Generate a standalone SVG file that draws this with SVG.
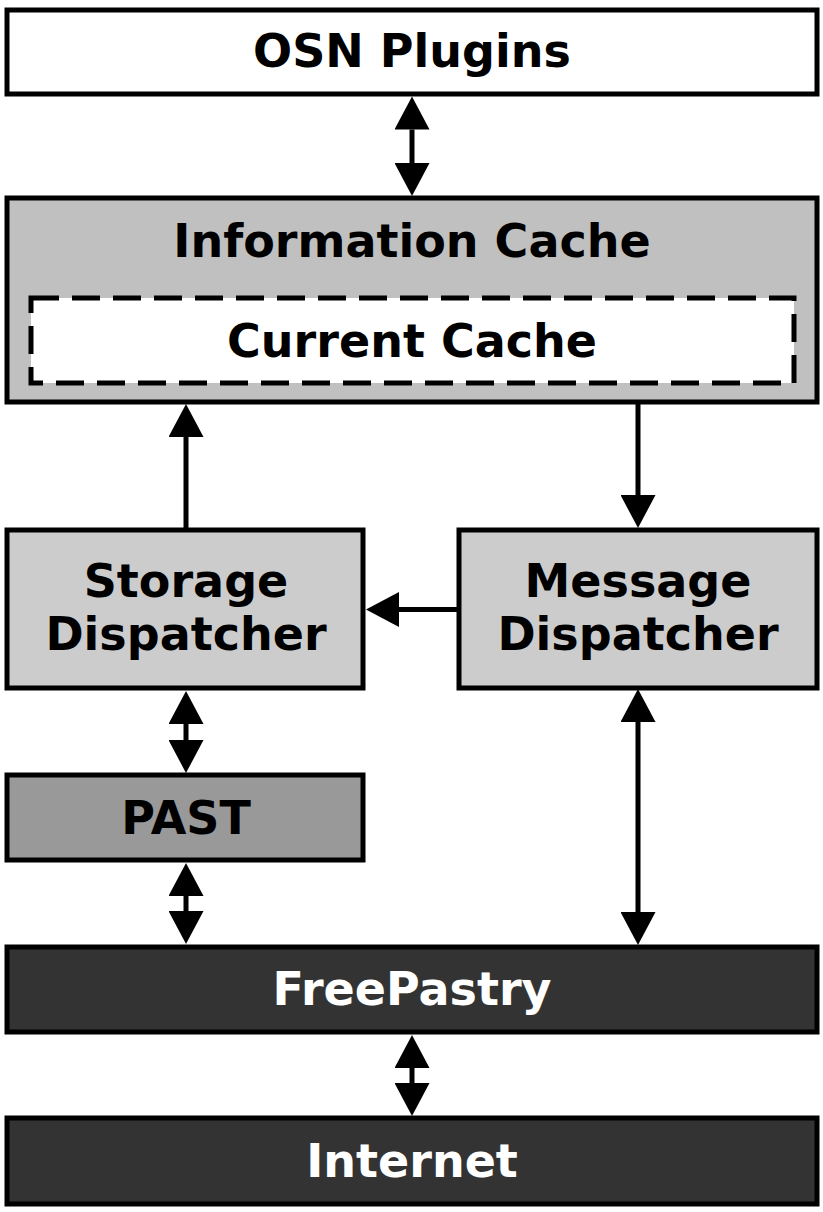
<svg xmlns="http://www.w3.org/2000/svg" width="823" height="1212" viewBox="0 0 823 1212">
<style>
.box{stroke:#000;stroke-width:5}
.lbl{font-family:"DejaVu Sans","Liberation Sans",sans-serif;font-weight:bold;font-size:46px;text-anchor:middle;fill:#000}
.wht{fill:#fff}
.conn{stroke:#000;stroke-width:5;fill:none}
</style>
<defs>
<marker id="ah" markerUnits="userSpaceOnUse" markerWidth="34" markerHeight="35" refX="0" refY="17.5" orient="auto-start-reverse" viewBox="0 0 34 35">
<path d="M0,0 L33,17.5 L0,35 Z" fill="#000"/>
</marker>
</defs>
<rect width="823" height="1212" fill="#fff"/>
<g id="osn-plugins">
<rect class="box" x="7" y="10" width="810" height="84" fill="#fff"/>
<text class="lbl" x="412" y="67">OSN Plugins</text>
</g>
<g id="information-cache">
<rect class="box" x="7" y="198" width="810" height="204" fill="#c0c0c0"/>
<text class="lbl" x="412" y="256.5">Information Cache</text>
</g>
<g id="current-cache">
<rect x="31" y="298" width="763" height="85" fill="#fff" stroke="#000" stroke-width="5" stroke-dasharray="28,13"/>
<text class="lbl" x="412" y="357">Current Cache</text>
</g>
<g id="storage-dispatcher">
<rect class="box" x="7" y="530" width="356" height="158" fill="#cccccc"/>
<text class="lbl" x="186" y="597">Storage</text>
<text class="lbl" x="186" y="650">Dispatcher</text>
</g>
<g id="message-dispatcher">
<rect class="box" x="459" y="530" width="358" height="158" fill="#cccccc"/>
<text class="lbl" x="638" y="597">Message</text>
<text class="lbl" x="638" y="650">Dispatcher</text>
</g>
<g id="past">
<rect class="box" x="7" y="775" width="356" height="85" fill="#999999"/>
<text class="lbl" x="186" y="834">PAST</text>
</g>
<g id="freepastry">
<rect class="box" x="7" y="947" width="810" height="85" fill="#333333"/>
<text class="lbl wht" x="412" y="1005">FreePastry</text>
</g>
<g id="internet">
<rect class="box" x="7" y="1118" width="810" height="86" fill="#333333"/>
<text class="lbl wht" x="412" y="1177">Internet</text>
</g>
<g id="connectors">
<line class="conn" x1="412" y1="129.5" x2="412" y2="163" marker-start="url(#ah)" marker-end="url(#ah)"/>
<line class="conn" x1="186" y1="530" x2="186" y2="437" marker-end="url(#ah)"/>
<line class="conn" x1="638" y1="402" x2="638" y2="495" marker-end="url(#ah)"/>
<line class="conn" x1="459" y1="609.5" x2="399" y2="609.5" marker-end="url(#ah)"/>
<line class="conn" x1="186" y1="724" x2="186" y2="740" marker-start="url(#ah)" marker-end="url(#ah)"/>
<line class="conn" x1="186" y1="896" x2="186" y2="911" marker-start="url(#ah)" marker-end="url(#ah)"/>
<line class="conn" x1="638" y1="722" x2="638" y2="912" marker-start="url(#ah)" marker-end="url(#ah)"/>
<line class="conn" x1="412" y1="1068" x2="412" y2="1083" marker-start="url(#ah)" marker-end="url(#ah)"/>
</g>
</svg>
